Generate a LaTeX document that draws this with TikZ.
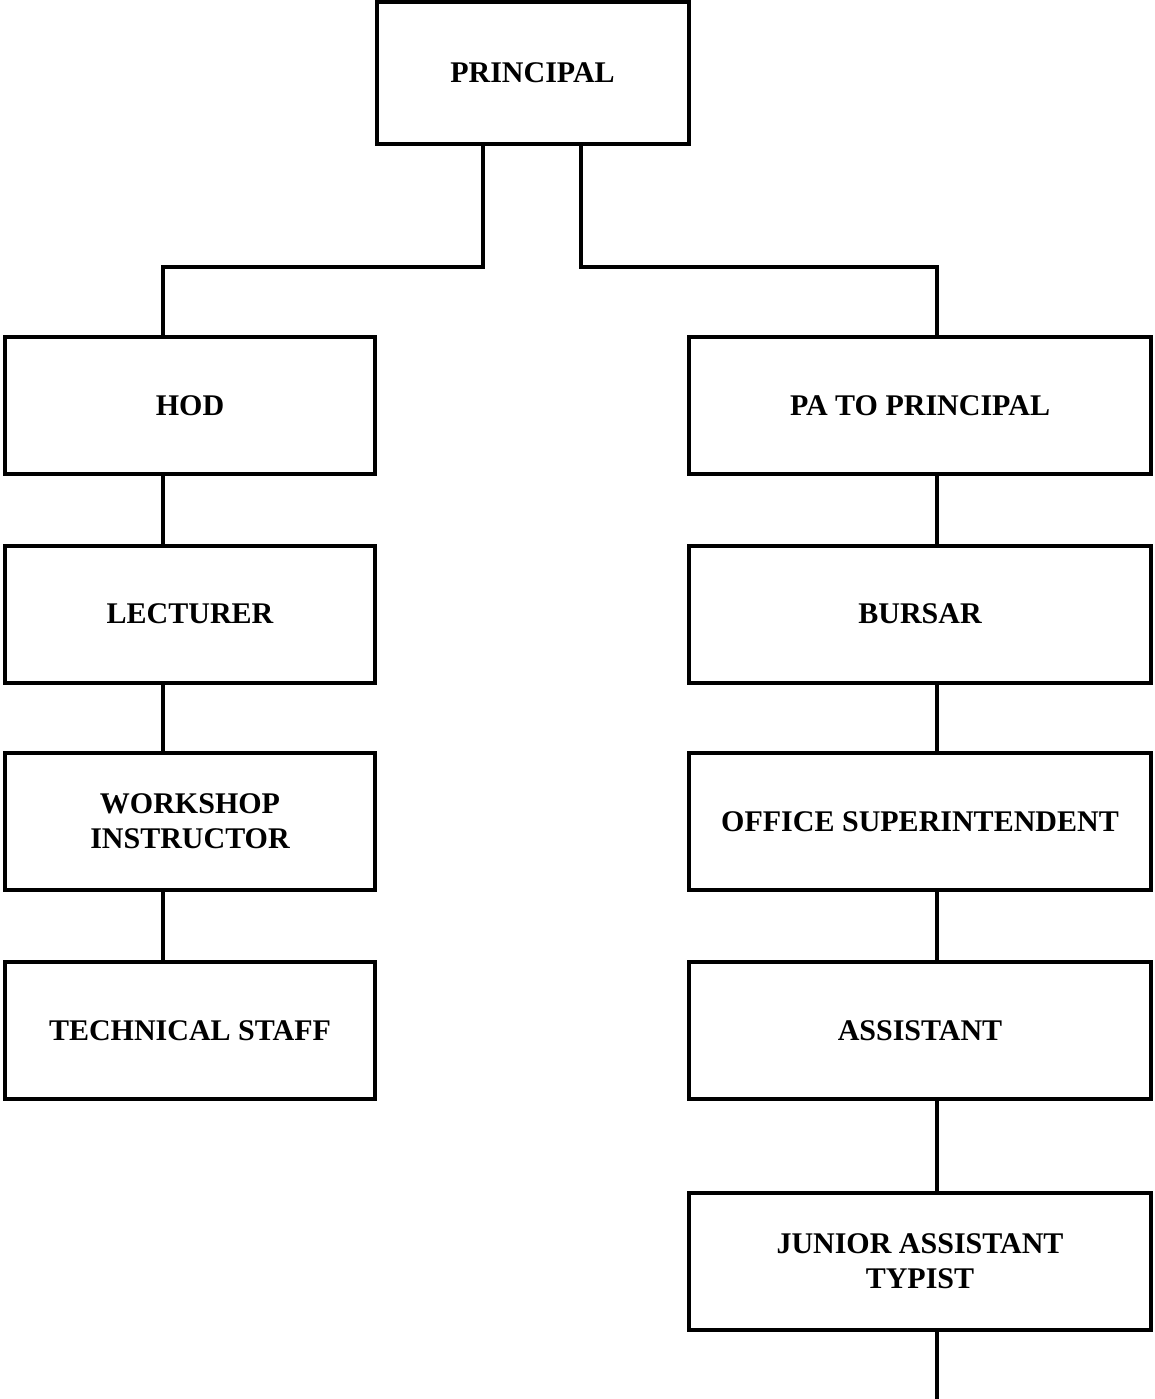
\documentclass[tikz,border=0pt]{standalone}
\usepackage{fontspec}
\setmainfont{Liberation Serif}
\begin{document}
\begin{tikzpicture}[x=1pt,y=1pt,
  box/.style={draw,line width=4pt,rectangle,outer sep=0pt,inner sep=0pt,
    align=center,font=\bfseries\fontsize{30}{35}\selectfont},
  lbox/.style={box,minimum width=370pt,minimum height=137pt},
  rbox/.style={box,minimum width=462pt,minimum height=137pt},
  conn/.style={line width=4pt}]
\useasboundingbox (0,0) rectangle (1154,-1399);
\node[box,minimum width=312pt,minimum height=142pt] (P) at (532.5,-73) {PRINCIPAL};
\node[lbox] (H) at (190,-405.5) {HOD};
\node[lbox] (L) at (190,-614) {LECTURER};
\node[lbox] (W) at (190,-821.5) {WORKSHOP\\INSTRUCTOR};
\node[lbox] (T) at (190,-1030.5) {TECHNICAL STAFF};
\node[rbox] (PA) at (920,-405.5) {PA TO PRINCIPAL};
\node[rbox] (B) at (920,-614) {BURSAR};
\node[rbox] (O) at (920,-821.5) {OFFICE SUPERINTENDENT};
\node[rbox] (A) at (920,-1030.5) {ASSISTANT};
\node[rbox] (J) at (920,-1261) {JUNIOR ASSISTANT\\TYPIST};
\coordinate (pl) at (483,-267);
\coordinate (pr) at (581,-267);
\coordinate (cl) at (163,-267);
\coordinate (cr) at (937,-267);
\coordinate (bend) at (937,-1399);
\draw[conn] (P.south -| pl) -- (pl) -- (cl) -- (H.north -| cl);
\draw[conn] (P.south -| pr) -- (pr) -- (cr) -- (PA.north -| cr);
\draw[conn] (H.south -| cl) -- (L.north -| cl);
\draw[conn] (L.south -| cl) -- (W.north -| cl);
\draw[conn] (W.south -| cl) -- (T.north -| cl);
\draw[conn] (PA.south -| cr) -- (B.north -| cr);
\draw[conn] (B.south -| cr) -- (O.north -| cr);
\draw[conn] (O.south -| cr) -- (A.north -| cr);
\draw[conn] (A.south -| cr) -- (J.north -| cr);
\draw[conn] (J.south -| cr) -- (bend);
\end{tikzpicture}
\end{document}
